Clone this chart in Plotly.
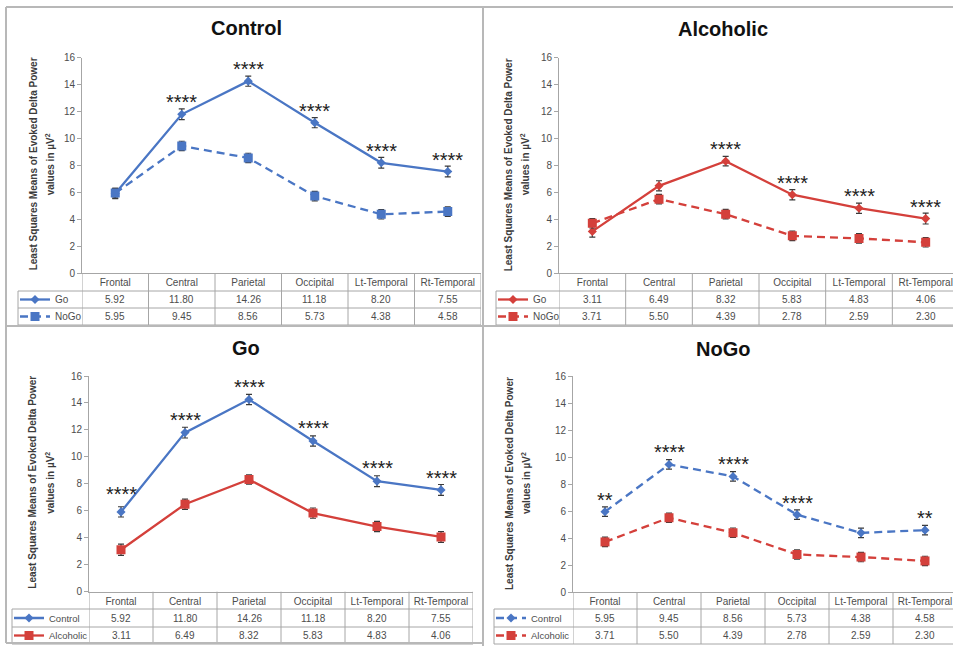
import plotly.graph_objects as go

# ---- data -------------------------------------------------------------
regions = ["Frontal", "Central", "Parietal", "Occipital", "Lt-Temporal", "Rt-Temporal"]

control_go = [5.92, 11.80, 14.26, 11.18, 8.20, 7.55]
control_nogo = [5.95, 9.45, 8.56, 5.73, 4.38, 4.58]
alcoholic_go = [3.11, 6.49, 8.32, 5.83, 4.83, 4.06]
alcoholic_nogo = [3.71, 5.50, 4.39, 2.78, 2.59, 2.30]

# standard errors of the least-squares means
control_go_se = [0.38, 0.40, 0.38, 0.38, 0.40, 0.40]
control_nogo_se = [0.35, 0.35, 0.35, 0.35, 0.35, 0.35]
alcoholic_go_se = [0.42, 0.38, 0.35, 0.38, 0.38, 0.40]
alcoholic_nogo_se = [0.35, 0.35, 0.35, 0.35, 0.35, 0.35]

# significance markers per comparison
stars_control = ["", "****", "****", "****", "****", "****"]
stars_alcoholic = ["", "", "****", "****", "****", "****"]
stars_go = ["****", "****", "****", "****", "****", "****"]
stars_nogo = ["**", "****", "****", "****", "", "**"]

y_ticks = [0, 2, 4, 6, 8, 10, 12, 14, 16]
y_title_lines = ["Least Squares Means of Evoked Delta Power", "values in µV<sup>2</sup>"]

# ---- styling ------------------------------------------------------------
W, H = 953, 646
BLUE = "#4a76c4"
RED = "#d4403b"
GRID = "#a6a6a6"
TXT = "#4d4d4d"
FONT = "Arial, Liberation Sans, sans-serif"


def px(x):
    return x / W


def py(y):
    return 1 - y / H


solid_diamond = dict(dash="solid", symbol="diamond", size=7)
dash_square = dict(dash="8px,5px", symbol="square", size=9)

panels = [
    dict(title="Control", title_xy=(246, 28),
         series=[("Go", control_go, control_go_se, BLUE, solid_diamond),
                 ("NoGo", control_nogo, control_nogo_se, BLUE, dash_square)],
         stars=stars_control, star_lift=[14] * 6,
         x0=82, x1=481, y_top=57.7, y_zero=273.3,
         rows=(291, 308, 325), leg_x=15, leg_size=10, table_left=18, ytitle_x=(33, 50)),
    dict(title="Alcoholic", title_xy=(723, 29),
         series=[("Go", alcoholic_go, alcoholic_go_se, RED, solid_diamond),
                 ("NoGo", alcoholic_nogo, alcoholic_nogo_se, RED, dash_square)],
         stars=stars_alcoholic, star_lift=[14] * 6,
         x0=559, x1=959, y_top=57.7, y_zero=273.3,
         rows=(291, 308, 325), leg_x=493, leg_size=10, table_left=496, ytitle_x=(508, 525)),
    dict(title="Go", title_xy=(246, 348),
         series=[("Control", control_go, control_go_se, BLUE, solid_diamond),
                 ("Alcoholic", alcoholic_go, alcoholic_go_se, RED, dict(solid_diamond, symbol="square", size=9))],
         stars=stars_go, star_lift=[20, 15, 14, 15, 15, 14],
         x0=89, x1=473, y_top=376, y_zero=591.7,
         rows=(609, 627, 644), leg_x=9, leg_size=9.5, table_left=12, ytitle_x=(33, 50)),
    dict(title="NoGo", title_xy=(723, 349),
         series=[("Control", control_nogo, control_nogo_se, BLUE, dict(dash_square, symbol="diamond", size=7)),
                 ("Alcoholic", alcoholic_nogo, alcoholic_nogo_se, RED, dash_square)],
         stars=stars_nogo, star_lift=[14] * 6,
         x0=573, x1=957, y_top=376, y_zero=592,
         rows=(609, 627, 644), leg_x=491, leg_size=9.5, table_left=494, ytitle_x=(509, 526)),
]

fig = go.Figure()
shapes, annotations = [], []
legend_layouts = {}
leg_n = 0

for k, p in enumerate(panels, start=1):
    sfx = "" if k == 1 else str(k)
    xa, ya = "x" + sfx, "y" + sfx
    col_w = (p["x1"] - p["x0"]) / 6.0
    right = min(p["x1"], W)
    x_max = -0.5 + (right - p["x0"]) / col_w
    r1, r2, r3 = p["rows"]

    # one single-entry legend per table row, acting as the row header
    for (name, vals, se, color, st), (row_top, row_bot) in zip(p["series"], ((r1, r2), (r2, r3))):
        leg_n += 1
        leg = "legend" if leg_n == 1 else f"legend{leg_n}"
        legend_layouts[leg] = dict(
            x=px(p["leg_x"]), y=py((row_top + row_bot) / 2), xanchor="left", yanchor="middle",
            font=dict(family=FONT, size=p["leg_size"], color=TXT), bgcolor="rgba(0,0,0,0)",
            itemwidth=30)
        fig.add_trace(go.Scatter(
            x=regions, y=vals, name=name, mode="lines+markers",
            xaxis=xa, yaxis=ya, legend=leg,
            line=dict(color=color, width=2.3, dash=st["dash"]),
            marker=dict(color=color, symbol=st["symbol"], size=st["size"]),
            error_y=dict(type="data", array=se, visible=True,
                         color="#3a3a3a", thickness=1.2, width=3),
        ))

    fig.update_layout({
        "xaxis" + sfx: dict(
            domain=[px(p["x0"]), px(right)], anchor=ya, type="category",
            range=[-0.5, x_max], showgrid=False, zeroline=False,
            showline=True, linecolor=GRID, linewidth=1, ticks="",
            tickfont=dict(family=FONT, size=10, color=TXT),
            ticklabelstandoff=0, fixedrange=True),
        "yaxis" + sfx: dict(
            domain=[py(p["y_zero"]), py(p["y_top"])], anchor=xa,
            range=[0, 16], tickvals=y_ticks, showgrid=False, zeroline=False,
            showline=True, linecolor=GRID, linewidth=1,
            ticks="outside", ticklen=4, tickcolor=GRID,
            tickfont=dict(family=FONT, size=10, color=TXT), fixedrange=True),
    })

    # table grid under the plot area
    for b in range(7):
        shapes.append(dict(type="line", xref=xa, yref="paper",
                           x0=b - 0.5, x1=b - 0.5, y0=py(p["y_zero"]), y1=py(r3),
                           line=dict(color=GRID, width=1)))
    for yy in (r1, r2, r3):
        shapes.append(dict(type="line", xref="paper", yref="paper",
                           x0=px(p["table_left"]), x1=px(right), y0=py(yy), y1=py(yy),
                           line=dict(color=GRID, width=1)))
    shapes.append(dict(type="line", xref="paper", yref="paper",
                       x0=px(p["table_left"]), x1=px(p["table_left"]), y0=py(r1), y1=py(r3),
                       line=dict(color=GRID, width=1)))

    # table values
    for row_top, row_bot, (name, vals, se, color, st) in zip((r1, r2), (r2, r3), p["series"]):
        for reg, v in zip(regions, vals):
            annotations.append(dict(
                x=reg, xref=xa, y=py((row_top + row_bot) / 2), yref="paper",
                xanchor="center", yanchor="middle",
                text=f"{v:.2f}", showarrow=False,
                font=dict(family=FONT, size=10, color=TXT)))

    # significance stars above the upper series
    upper = [max(a, b) for a, b in zip(p["series"][0][1], p["series"][1][1])]
    for reg, v, s, lift in zip(regions, upper, p["stars"], p["star_lift"]):
        if s:
            annotations.append(dict(
                x=reg, xref=xa, y=v, yref=ya, text=s, showarrow=False,
                xanchor="center", yanchor="middle",
                yshift=lift - 2, font=dict(family=FONT, size=20, color="#222222")))

    # panel title and y-axis title (two rotated lines)
    tx, ty = p["title_xy"]
    annotations.append(dict(x=px(tx), y=py(ty), xref="paper", yref="paper",
                            xanchor="center", yanchor="middle",
                            text=f"<b>{p['title']}</b>", showarrow=False,
                            font=dict(family=FONT, size=20, color="#111111")))
    for line_x, line_txt in zip(p["ytitle_x"], y_title_lines):
        annotations.append(dict(
            x=px(line_x), y=py(p["y_zero"] - 109),
            xref="paper", yref="paper", textangle=-90, showarrow=False,
            xanchor="center", yanchor="middle",
            text=f"<b>{line_txt}</b>",
            font=dict(family=FONT, size=10, color="#3c3c3c")))

# panel frames
FRAME = "#b8b8b8"
for x0, y0, x1, y1 in [(6, 7, 483, 7), (483, 7, W, 7), (6, 7, 6, 643), (483, 7, 483, H),
                       (6, 326, W, 326), (6, 643, 483, 643)]:
    shapes.append(dict(type="line", xref="paper", yref="paper",
                       x0=px(x0), x1=px(x1), y0=py(y0), y1=py(y1),
                       line=dict(color=FRAME, width=2)))

fig.update_layout(
    width=W, height=H, margin=dict(l=0, r=0, t=0, b=0, autoexpand=False),
    paper_bgcolor="white", plot_bgcolor="white",
    font=dict(family=FONT, color=TXT),
    shapes=shapes, annotations=annotations, showlegend=True,
    **legend_layouts,
)

fig.write_html("out.html", config={"displayModeBar": False})
